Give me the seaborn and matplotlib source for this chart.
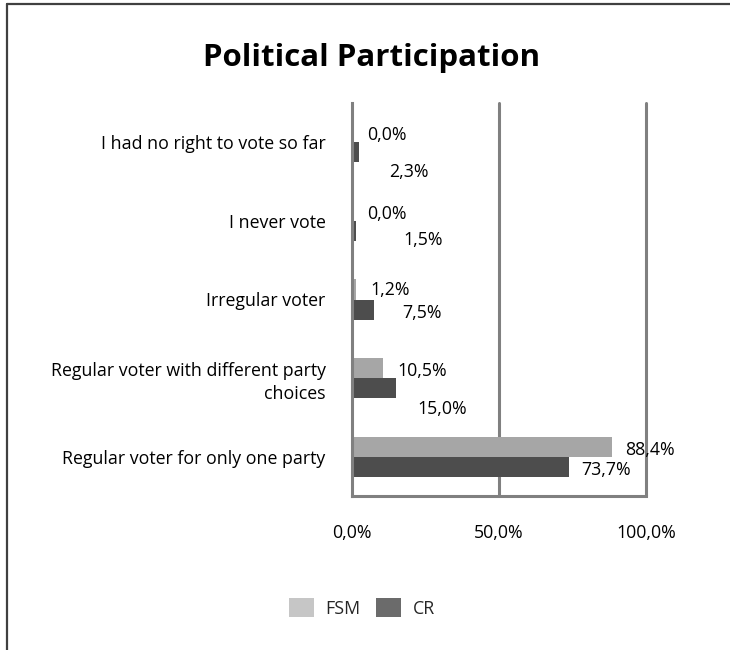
import matplotlib
matplotlib.use("Agg")
import matplotlib.pyplot as plt
from matplotlib.lines import Line2D
from matplotlib.patches import Patch
import numpy as np
import pandas as pd
import seaborn as sns

# Survey answers, top to bottom
categories = [
    "I had no right to vote so far",
    "I never vote",
    "Irregular voter",
    "Regular voter with different party\nchoices",
    "Regular voter for only one party",
]
series_names = ["FSM", "CR"]
fsm_values = [0.0, 0.0, 1.2, 10.5, 88.4]
cr_values = [2.3, 1.5, 7.5, 15.0, 73.7]
x_ticks = [0, 50, 100]
x_tick_labels = ["0,0%", "50,0%", "100,0%"]

df = pd.DataFrame({
    "category": categories * 2,
    "group": [series_names[0]] * len(categories) + [series_names[1]] * len(categories),
    "value": fsm_values + cr_values,
})

sns.set_theme(style="white")
plt.rcParams["font.family"] = ["Open Sans", "DejaVu Sans"]

FS = 12.8
bar_colors = {"FSM": "#a6a6a6", "CR": "#4d4d4d"}
legend_colors = {"FSM": "#c6c6c6", "CR": "#6b6b6b"}
grid_color = "#808080"

fig = plt.figure(figsize=(7.3, 6.5), dpi=100)
ax = fig.add_axes([352 / 730, 1 - 496 / 650, 294 / 730, 393 / 650])

sns.barplot(
    data=df, y="category", x="value", hue="group", order=categories,
    hue_order=series_names, palette=bar_colors, orient="h",
    width=0.51, dodge=True, saturation=1, ax=ax, legend=False,
    edgecolor="none", linewidth=0,
)

ax.set_xlim(0, 100)
ax.set_xticks(x_ticks)
ax.set_xticklabels(x_tick_labels, fontsize=FS)
ax.set_xlabel("")
ax.set_ylabel("")
ax.tick_params(axis="x", length=0, pad=20, colors="#000000")
ax.tick_params(axis="y", length=0, pad=19, labelsize=FS, colors="#000000")
for lbl in ax.get_yticklabels():
    lbl.set_linespacing(1.35)

for side in ["top", "right"]:
    ax.spines[side].set_visible(False)
for side in ["left", "bottom"]:
    ax.spines[side].set_color(grid_color)
    ax.spines[side].set_linewidth(2.2)
for xv in x_ticks[1:]:
    ax.axvline(xv, color=grid_color, lw=2.2, zorder=0.5, clip_on=False)

# Value labels beside each bar (pixel offsets: right of bar end, below bar centre)
label_offsets = {
    "FSM": [(15, 3), (15, 3), (15, 1), (14, 3), (13, 3)],
    "CR": [(30, 20), (47, 9), (28, 3), (21, 21), (13, 3)],
}
for name, container in zip(series_names, ax.containers):
    for bar, (dx, dy) in zip(container, label_offsets[name]):
        w = bar.get_width()
        yc = bar.get_y() + bar.get_height() / 2
        ax.annotate(
            f"{w:.1f}%".replace(".", ","), xy=(w, yc), xytext=(dx, -dy),
            textcoords="offset pixels", ha="left", va="center",
            fontsize=FS, color="#000000", annotation_clip=False,
        )

fig.text(372 / 730, 1 - 58 / 650, "Political Participation",
         ha="center", va="center", fontsize=22.5, fontweight="bold", color="#000000")

handles = [Patch(facecolor=legend_colors[n], edgecolor="none", label=n) for n in series_names]
fig.legend(
    handles=handles, loc="center", bbox_to_anchor=(362 / 730, 1 - 608 / 650),
    ncol=2, frameon=False, fontsize=FS, handlelength=1.4, handleheight=1.25,
    handletextpad=0.65, columnspacing=0.9,
)

# Outer frame edges on top and left
fig.add_artist(Line2D([7 / 730, 1], [1 - 3.5 / 650] * 2, color="#404040", lw=1.6))
fig.add_artist(Line2D([7 / 730] * 2, [0, 1 - 3.5 / 650], color="#404040", lw=1.6))

fig.savefig("out.png", dpi=100, facecolor="white")
